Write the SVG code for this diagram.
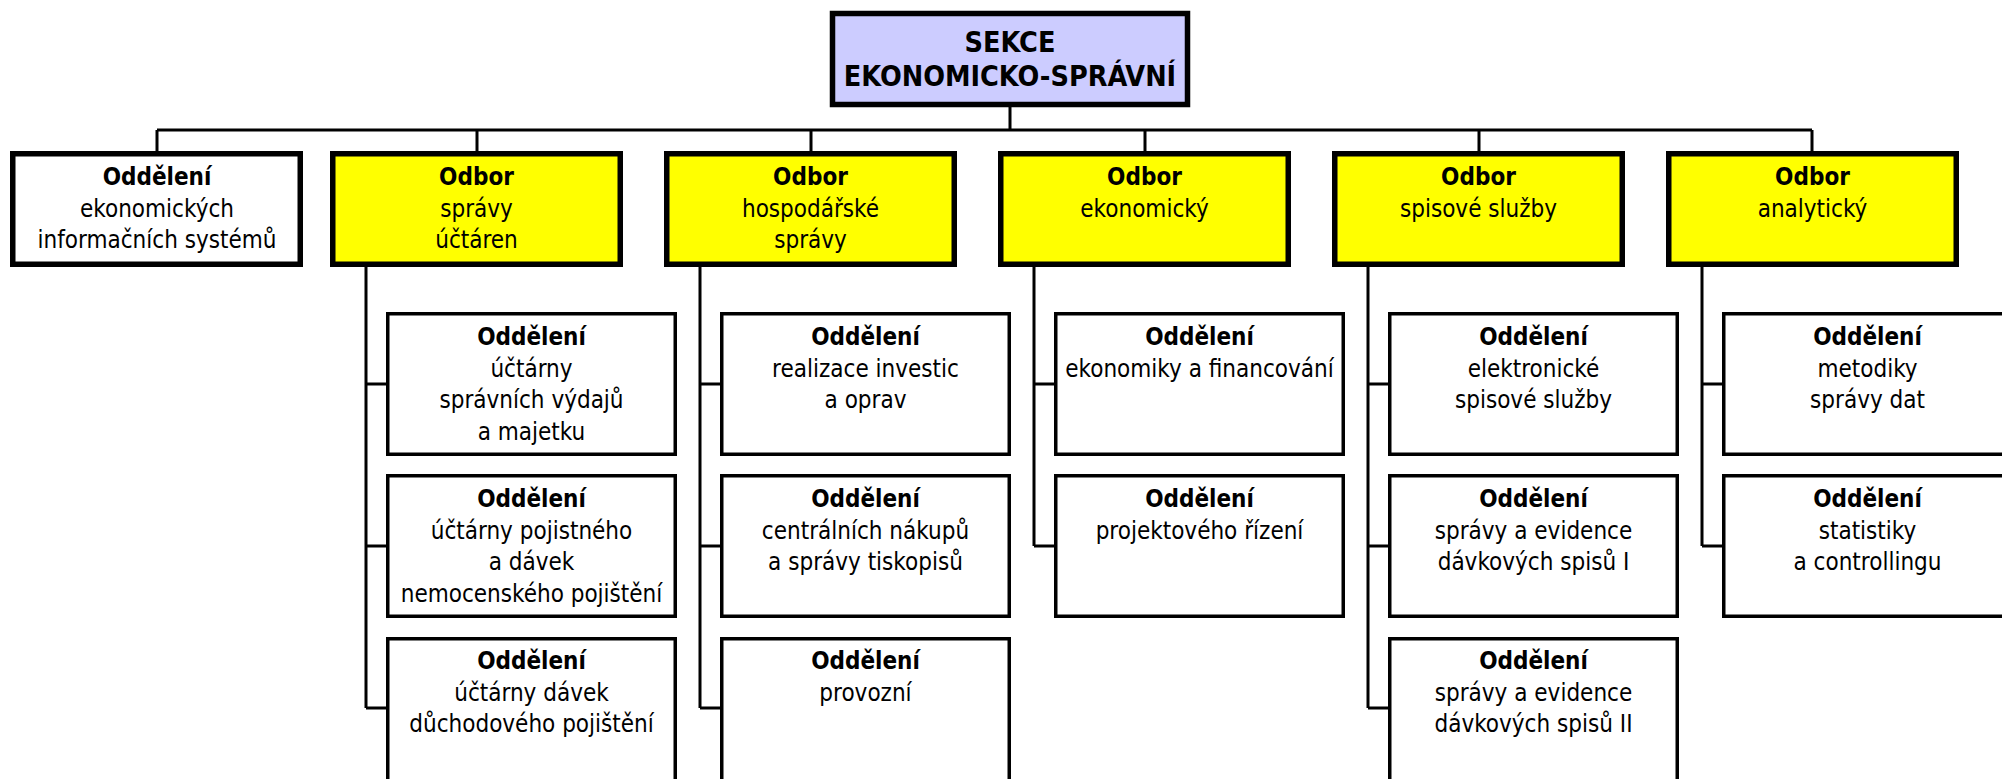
<svg xmlns="http://www.w3.org/2000/svg" width="2002" height="779" viewBox="0 0 2002 779">
<style>
text{font-family:"DejaVu Sans Condensed","DejaVu Sans",sans-serif;font-stretch:condensed;font-size:24px;fill:#000;text-anchor:middle}
.b{font-weight:bold}
.top{font-size:28.5px;font-weight:bold}
.main{stroke:#000;stroke-width:5.5}
.child{fill:#fff;stroke:#000;stroke-width:3.5}
.y{fill:#ffff00}
.w{fill:#fff}
.l{fill:#ccccff}
#connectors path{fill:none;stroke:#000;stroke-width:3}
</style>
<rect width="2002" height="779" fill="#fff"/>
<g id="connectors">
<path d="M1010 107V130M157 130H1812M157 130V151M477 130V151M811 130V151M1145 130V151M1479 130V151M1812 130V151"/>
<path d="M366 267V708M366 384H386M366 546H386M366 708H386"/>
<path d="M700 267V708M700 384H720M700 546H720M700 708H720"/>
<path d="M1034 267V546M1034 384H1054M1034 546H1054"/>
<path d="M1368 267V708M1368 384H1388M1368 546H1388M1368 708H1388"/>
<path d="M1702 267V546M1702 384H1722M1702 546H1722"/>
</g>
<g id="sekce">
<rect class="main l" x="832.5" y="13.5" width="355" height="91"/>
<text class="top" x="1010" y="52">SEKCE</text>
<text class="top" x="1010" y="86">EKONOMICKO-SPRÁVNÍ</text>
</g>
<g id="odd-eis">
<rect class="main w" x="12.75" y="153.75" width="287.5" height="110.5"/>
<text x="157" y="185"><tspan class="b">Oddělení</tspan><tspan x="157" dy="31.5">ekonomických</tspan><tspan x="157" dy="31.5">informačních systémů</tspan></text>
</g>
<g id="odbor-uctaren">
<rect class="main y" x="332.75" y="153.75" width="287.5" height="110.5"/>
<text x="476.5" y="185"><tspan class="b">Odbor</tspan><tspan x="476.5" dy="31.5">správy</tspan><tspan x="476.5" dy="31.5">účtáren</tspan></text>
</g>
<g id="odbor-hosp">
<rect class="main y" x="666.75" y="153.75" width="287.5" height="110.5"/>
<text x="810.5" y="185"><tspan class="b">Odbor</tspan><tspan x="810.5" dy="31.5">hospodářské</tspan><tspan x="810.5" dy="31.5">správy</tspan></text>
</g>
<g id="odbor-ekon">
<rect class="main y" x="1000.75" y="153.75" width="287.5" height="110.5"/>
<text x="1144.5" y="185"><tspan class="b">Odbor</tspan><tspan x="1144.5" dy="31.5">ekonomický</tspan></text>
</g>
<g id="odbor-spis">
<rect class="main y" x="1334.75" y="153.75" width="287.5" height="110.5"/>
<text x="1478.5" y="185"><tspan class="b">Odbor</tspan><tspan x="1478.5" dy="31.5">spisové služby</tspan></text>
</g>
<g id="odbor-anal">
<rect class="main y" x="1668.75" y="153.75" width="287.5" height="110.5"/>
<text x="1812.5" y="185"><tspan class="b">Odbor</tspan><tspan x="1812.5" dy="31.5">analytický</tspan></text>
</g>
<g id="c2-1">
<rect class="child" x="387.75" y="313.75" width="287.5" height="140.5"/>
<text x="531.5" y="345"><tspan class="b">Oddělení</tspan><tspan x="531.5" dy="31.7">účtárny</tspan><tspan x="531.5" dy="31.7">správních výdajů</tspan><tspan x="531.5" dy="31.7">a majetku</tspan></text>
</g>
<g id="c2-2">
<rect class="child" x="387.75" y="475.75" width="287.5" height="140.5"/>
<text x="531.5" y="507"><tspan class="b">Oddělení</tspan><tspan x="531.5" dy="31.7">účtárny pojistného</tspan><tspan x="531.5" dy="31.7">a dávek</tspan><tspan x="531.5" dy="31.7">nemocenského pojištění</tspan></text>
</g>
<g id="c2-3">
<rect class="child" x="387.75" y="638.75" width="287.5" height="145"/>
<text x="531.5" y="669"><tspan class="b">Oddělení</tspan><tspan x="531.5" dy="31.7">účtárny dávek</tspan><tspan x="531.5" dy="31.7">důchodového pojištění</tspan></text>
</g>
<g id="c3-1">
<rect class="child" x="721.75" y="313.75" width="287.5" height="140.5"/>
<text x="865.5" y="345"><tspan class="b">Oddělení</tspan><tspan x="865.5" dy="31.7">realizace investic</tspan><tspan x="865.5" dy="31.7">a oprav</tspan></text>
</g>
<g id="c3-2">
<rect class="child" x="721.75" y="475.75" width="287.5" height="140.5"/>
<text x="865.5" y="507"><tspan class="b">Oddělení</tspan><tspan x="865.5" dy="31.7">centrálních nákupů</tspan><tspan x="865.5" dy="31.7">a správy tiskopisů</tspan></text>
</g>
<g id="c3-3">
<rect class="child" x="721.75" y="638.75" width="287.5" height="145"/>
<text x="865.5" y="669"><tspan class="b">Oddělení</tspan><tspan x="865.5" dy="31.7">provozní</tspan></text>
</g>
<g id="c4-1">
<rect class="child" x="1055.75" y="313.75" width="287.5" height="140.5"/>
<text x="1199.5" y="345"><tspan class="b">Oddělení</tspan><tspan x="1199.5" dy="31.7">ekonomiky a financování</tspan></text>
</g>
<g id="c4-2">
<rect class="child" x="1055.75" y="475.75" width="287.5" height="140.5"/>
<text x="1199.5" y="507"><tspan class="b">Oddělení</tspan><tspan x="1199.5" dy="31.7">projektového řízení</tspan></text>
</g>
<g id="c5-1">
<rect class="child" x="1389.75" y="313.75" width="287.5" height="140.5"/>
<text x="1533.5" y="345"><tspan class="b">Oddělení</tspan><tspan x="1533.5" dy="31.7">elektronické</tspan><tspan x="1533.5" dy="31.7">spisové služby</tspan></text>
</g>
<g id="c5-2">
<rect class="child" x="1389.75" y="475.75" width="287.5" height="140.5"/>
<text x="1533.5" y="507"><tspan class="b">Oddělení</tspan><tspan x="1533.5" dy="31.7">správy a evidence</tspan><tspan x="1533.5" dy="31.7">dávkových spisů I</tspan></text>
</g>
<g id="c5-3">
<rect class="child" x="1389.75" y="638.75" width="287.5" height="145"/>
<text x="1533.5" y="669"><tspan class="b">Oddělení</tspan><tspan x="1533.5" dy="31.7">správy a evidence</tspan><tspan x="1533.5" dy="31.7">dávkových spisů II</tspan></text>
</g>
<g id="c6-1">
<rect class="child" x="1723.75" y="313.75" width="287.5" height="140.5"/>
<text x="1867.5" y="345"><tspan class="b">Oddělení</tspan><tspan x="1867.5" dy="31.7">metodiky</tspan><tspan x="1867.5" dy="31.7">správy dat</tspan></text>
</g>
<g id="c6-2">
<rect class="child" x="1723.75" y="475.75" width="287.5" height="140.5"/>
<text x="1867.5" y="507"><tspan class="b">Oddělení</tspan><tspan x="1867.5" dy="31.7">statistiky</tspan><tspan x="1867.5" dy="31.7">a controllingu</tspan></text>
</g>
</svg>
